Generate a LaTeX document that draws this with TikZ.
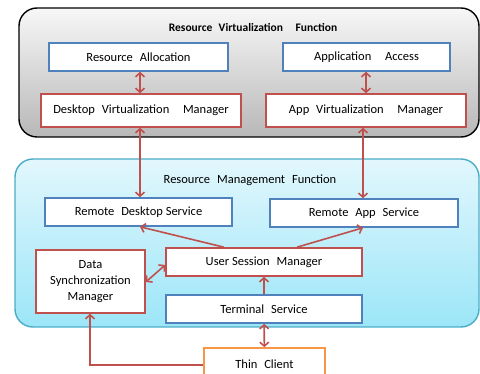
\documentclass[tikz,border=0pt]{standalone}
\usepackage{fontspec}
\setmainfont{Carlito}
\usepackage{tikz}
\usetikzlibrary{arrows.meta}

\definecolor{boxred}{HTML}{C0504D}
\definecolor{boxblue}{HTML}{4F81BD}
\definecolor{boxorange}{HTML}{F79646}
\definecolor{boxteal}{HTML}{4BACC6}
\definecolor{cyantop}{HTML}{E2F7FD}
\definecolor{cyanbot}{HTML}{9CE6F8}
\newcommand{\wgap}{\hspace{0.55em}}

\begin{document}
\begin{tikzpicture}[x=1pt, y=-1pt, font=\fontsize{12.5}{15}\selectfont,
                    blue/.style = {draw=boxblue, line width=1.6pt, fill=white, inner sep=0pt},
                    red/.style = {draw=boxred, line width=1.6pt, fill=white, inner sep=0pt},
                    link/.style = {draw=boxred, line width=1.6pt, {Straight Barb[length=4pt,width=9pt]}-{Straight Barb[length=4pt,width=9pt]}},
                    linkto/.style = {draw=boxred, line width=1.6pt, -{Straight Barb[length=4pt,width=9pt]}}] 
                    \useasboundingbox (0,0) rectangle (480,374);

                    % the two function areas
                    \draw[rounded corners=18pt, line width=1.4pt, top color=black!3, bottom color=black!28] (19,8) rectangle (479,137);
                    \draw[rounded corners=18pt, line width=1.4pt, draw=boxteal, top color=cyantop, bottom color=cyanbot] (15,159) rectangle (479,327);

                    \node[font=\fontsize{11.5}{13}\selectfont\bfseries] (RVF) at (253,28) {Resource\wgap Virtualization\wgap\wgap Function};
                    \node (RMF) at (250,180) {Resource\wgap Management\wgap Function};

                    \node[blue, minimum width=179, minimum height=28] (RA) at (138.5,57) {Resource\wgap Allocation};
                    \node[blue, minimum width=167, minimum height=28] (AA) at (366.5,57) {Application\wgap\wgap Access};
                    \node[red, minimum width=200, minimum height=33] (DVM) at (141,110.5) {Desktop\wgap Virtualization\wgap\wgap Manager};
                    \node[red, minimum width=200, minimum height=33] (AVM) at (366,110.5) {App\wgap Virtualization\wgap\wgap Manager};

                    \node[blue, minimum width=187, minimum height=28] (RDS) at (138.5,212) {Remote\wgap Desktop Service};
                    \node[blue, minimum width=188, minimum height=28] (RAS) at (364,213) {Remote\wgap App\wgap Service};
                    \node[red, minimum width=109, minimum height=63, align=center] (DSM) at (90.5,281.5) {Data\\[1pt]Synchronization\\[1pt]Manager};
                    \node[red, minimum width=196, minimum height=28] (USM) at (264,262) {User Session\wgap Manager};
                    \node[blue, minimum width=196, minimum height=28] (TS) at (264,309) {Terminal\wgap Service};
                    \node[draw=boxorange, line width=1.6pt, fill=white, minimum width=121, minimum height=33, inner sep=0pt] (TC) at (264.5,364.5) {Thin\wgap Client};

                    \path[link] (RA.south -| 140,0) -- (DVM.north -| 140,0);
                    \path[link] (AA.south -| 366,0) -- (AVM.north -| 366,0);
                    \path[link] (DVM.south -| 140,0) -- (RDS.north -| 140,0);
                    \path[link] (AVM.south -| 363,0) -- (RAS.north -| 363,0);

                    \path[linkto] (USM.north -| 224,0) -- (RDS.south -| 140,0);
                    \path[linkto] (USM.north -| 297,0) -- (RAS.south -| 363,0);
                    \path[link] (USM.west |- 0,265) -- (DSM.east |- 0,282);
                    \path[linkto] (TS) -- (USM);
                    \path[link] (TC) -- (TS);
                    \path[linkto] (TC.west |- 0,365) -| (DSM.south -| 90,0);
                \end{tikzpicture}
\end{document}
